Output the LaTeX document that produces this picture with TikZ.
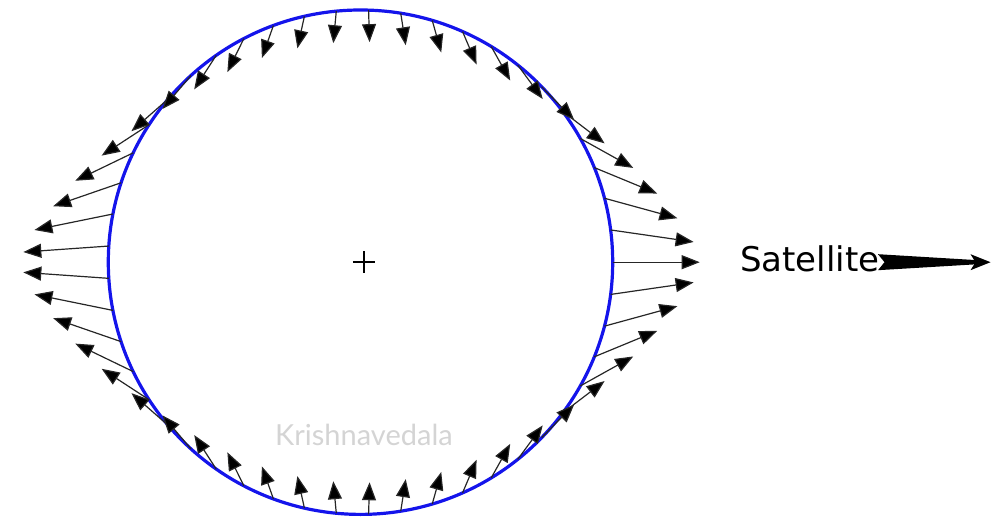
\documentclass[tikz,border=0pt]{standalone}
\usepackage{fontspec}
\usetikzlibrary{arrows.meta}
\newfontfamily\satfont{DejaVu Sans}
\newfontfamily\wmfont{Lato}
\definecolor{ringblue}{RGB}{20,20,235}
\definecolor{wmgray}{RGB}{212,212,212}
\tikzset{
  vec/.style={line width=1.2pt, draw=black!85, -{Triangle[length=18pt,width=14pt,fill=black]}},
  ring/.style={draw=ringblue, line width=3.2pt},
}
\begin{document}
\begin{tikzpicture}[x=1pt,y=1pt]
\useasboundingbox (-360.5,-259.8) rectangle (638.5,262.2);
\coordinate (c) at (0,0);
\draw[ring] (c) circle[radius=252.2];
% right half (angles k*360/49)
\draw[vec] (0:252.2) -- ++(87,0);
\foreach \t/\vx/\vy in {7.347/83/12, 14.694/73/20, 22.041/63/26, 29.388/53/29.5,
  36.735/42/32, 44.082/32.5/33, 51.429/25/34, 58.776/19/34, 66.122/14/33,
  73.469/9/32, 80.816/5/32, 88.163/1/32}{
  \draw[vec] (\t:252.2) -- ++(\vx,-\vy);
  \draw[vec] (-\t:252.2) -- ++(\vx,\vy);
}
% left half (offset by half a step)
\foreach \p/\vx/\vy in {3.673/85.5/6, 11.020/78.5/16, 18.367/68/23.5, 25.714/58/28,
  33.061/47.5/31, 40.408/37/32.5, 47.755/28.5/33.5, 55.102/22/34, 62.449/16.5/33.5,
  69.796/11.5/32.5, 77.143/7/32, 84.490/3/32}{
  \draw[vec] ({180-\p}:252.2) -- ++(-\vx,-\vy);
  \draw[vec] ({180+\p}:252.2) -- ++(-\vx,\vy);
}
% centre mark
\coordinate (p) at (3.5,0.2);
\draw[line width=2.2pt] ([xshift=-11pt]p) -- ([xshift=11pt]p);
\draw[line width=2.2pt] ([yshift=-11pt]p) -- ([yshift=11pt]p);
% satellite
\node[anchor=base west, inner sep=0pt, font=\satfont\fontsize{34}{40}\selectfont] (sat) at (379.5,-9.8) {Satellite};
\fill (517.5,8) -- (617.5,2) -- (617.5,-2) -- (517.5,-8) -- (524,0) -- cycle;
\fill (610,8) -- (630,0) -- (610,-8) -- (615,0) -- cycle;
% watermark
\node[anchor=base west, inner sep=0pt, text=wmgray, font=\wmfont\fontsize{29}{34}\selectfont] (wm) at (-85.5,-182.8) {Krishnavedala};
\end{tikzpicture}
\end{document}
